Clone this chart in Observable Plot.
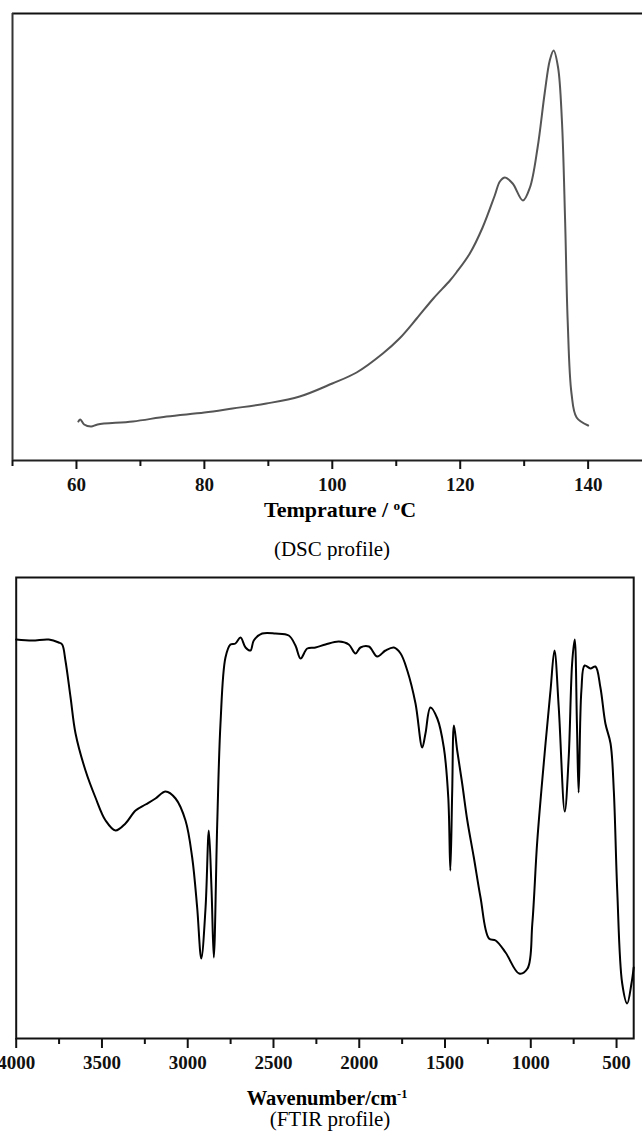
<!DOCTYPE html>
<html><head><meta charset="utf-8">
<script src="https://cdn.jsdelivr.net/npm/d3@7"></script>
<script src="https://cdn.jsdelivr.net/npm/@observablehq/plot@0.6"></script>
<style>
html,body{margin:0;padding:0;background:#fff;overflow:hidden;}
#page{position:relative;width:642px;height:1140px;font-family:"Liberation Serif","Times New Roman",serif;color:#000;}
.plot{position:absolute;left:0;}
.lbl{position:absolute;white-space:nowrap;transform:translateX(-50%);line-height:1;}
.sup{position:relative;top:-0.55em;font-size:0.6em;}
svg text{font-size:19px !important;font-weight:bold !important;font-family:"Liberation Serif","Times New Roman",serif !important;}
</style></head><body>
<div id="page">
  <div id="dsc" class="plot" style="top:0"></div>
  <div class="lbl" style="left:340px;top:499px;font-size:22px;font-weight:bold">Temprature / <span class="sup">o</span>C</div>
  <div class="lbl" style="left:332px;top:539px;font-size:21px">(DSC profile)</div>
  <div id="ftir" class="plot" style="top:560px"></div>
  <div class="lbl" style="left:327px;top:1088px;font-size:20.5px;font-weight:bold">Wavenumber/cm<span class="sup">-1</span></div>
  <div class="lbl" style="left:330px;top:1109px;font-size:21px">(FTIR profile)</div>
</div>
<script>
// DSC profile (temperature in °C, heat flow in arbitrary units)
const dscTemp = [60.3,60.6,61.2,62.3,63.3,68.8,74.1,80,84.4,89.7,94.9,100,103.8,107.9,110.5,113.2,115.8,118.4,119.4,121.5,123.5,125.4,126.2,127.0,128.2,129.8,130.9,132.1,133.2,134.0,134.6,135.3,135.9,136.4,136.8,137.4,138.2,140];
const dscHeat = [39,41,36,34,36,39,44,48,52,57,64,77,88,107,122,142,162,180,188,207,233,265,279,283,277,260,273,313,367,400,410,393,340,240,140,67,43,35];
const dscMajorTicks = [60,80,100,120,140];
const dscMinorTicks = [50,70,90,110,130];

// FTIR profile (wavenumber in cm-1, transmittance in arbitrary units)
const wavenumber = [4000,3907,3810,3752,3732,3713,3683,3654,3596,3538,3479,3421,3363,3304,3246,3188,3129,3071,3013,2974,2945,2921,2896,2877,2861,2848,2828,2809,2780,2751,2722,2692,2663,2634,2615,2566,2488,2411,2372,2342,2303,2255,2197,2119,2061,2022,1993,1944,1895,1847,1798,1759,1720,1672,1633,1614,1585,1545,1507,1481,1469,1458,1448,1429,1400,1370,1332,1293,1244,1205,1147,1068,1019,991,962,914,885,862,837,802,779,759,744,731,721,705,686,652,623,594,565,535,516,496,467,438,413,400];
const transmittance = [399,398,399,396,394,378,341,305,268,241,218,208,215,228,234,240,247,240,218,181,131,80,131,208,148,81,215,315,381,394,395,401,391,388,398,405,405,403,393,380,390,391,394,397,394,385,391,392,382,388,391,385,368,335,291,305,331,320,291,241,168,248,313,288,255,218,181,141,100,98,86,65,70,115,198,295,348,388,331,227,281,375,399,315,246,348,373,370,372,351,315,295,248,148,55,35,55,71];
const ftirMajorTicks = [4000,3500,3000,2500,2000,1500,1000,500];
const ftirMinorTicks = [3750,3250,2750,2250,1750,1250,750];

const dscData = dscTemp.map((t, i) => ({t, h: dscHeat[i]}));
const ftirData = wavenumber.map((w, i) => ({w, v: transmittance[i]}));

const baseStyle = {background: "white", fontFamily: "Liberation Serif, Times New Roman, serif", fontSize: "19px", fontWeight: "bold", color: "#111", overflow: "visible"};
const fmt = d => String(d);

const dsc = Plot.plot({
  width: 642, height: 500,
  marginLeft: 12, marginRight: 0, marginTop: 13, marginBottom: 40,
  x: {domain: [50, 148.5], label: null},
  y: {domain: [0, 447], axis: null},
  style: baseStyle,
  marks: [
    Plot.ruleY([447], {stroke: "#111", strokeWidth: 2}),
    Plot.ruleY([0], {stroke: "#222", strokeWidth: 2}),
    Plot.ruleX([50], {stroke: "#333", strokeWidth: 2}),
    Plot.axisX(dscMajorTicks, {tickSize: 9, tickPadding: 8, strokeWidth: 2, fontSize: 19, fontWeight: "bold", tickFormat: fmt, label: null}),
    Plot.axisX(dscMinorTicks, {tickSize: 6, tickFormat: () => "", strokeWidth: 2, label: null}),
    Plot.line(dscData, {x: "t", y: "h", stroke: "#555", strokeWidth: 2, curve: "catmull-rom"})
  ]
});
document.getElementById("dsc").appendChild(dsc);

const ftir = Plot.plot({
  width: 642, height: 518,
  marginLeft: 15.7, marginRight: 8.8, marginTop: 17, marginBottom: 40,
  x: {domain: [4000, 400], label: null},
  y: {domain: [0, 461], axis: null},
  style: baseStyle,
  marks: [
    Plot.frame({stroke: "#111", strokeWidth: 2}),
    Plot.axisX(ftirMajorTicks, {tickSize: 10, tickPadding: 7, strokeWidth: 2, fontSize: 19, fontWeight: "bold", tickFormat: fmt, label: null}),
    Plot.axisX(ftirMinorTicks, {tickSize: 6, tickFormat: () => "", strokeWidth: 2, label: null}),
    Plot.line(ftirData, {x: "w", y: "v", stroke: "#000", strokeWidth: 2, curve: "catmull-rom"})
  ]
});
document.getElementById("ftir").appendChild(ftir);
</script>
</body></html>
